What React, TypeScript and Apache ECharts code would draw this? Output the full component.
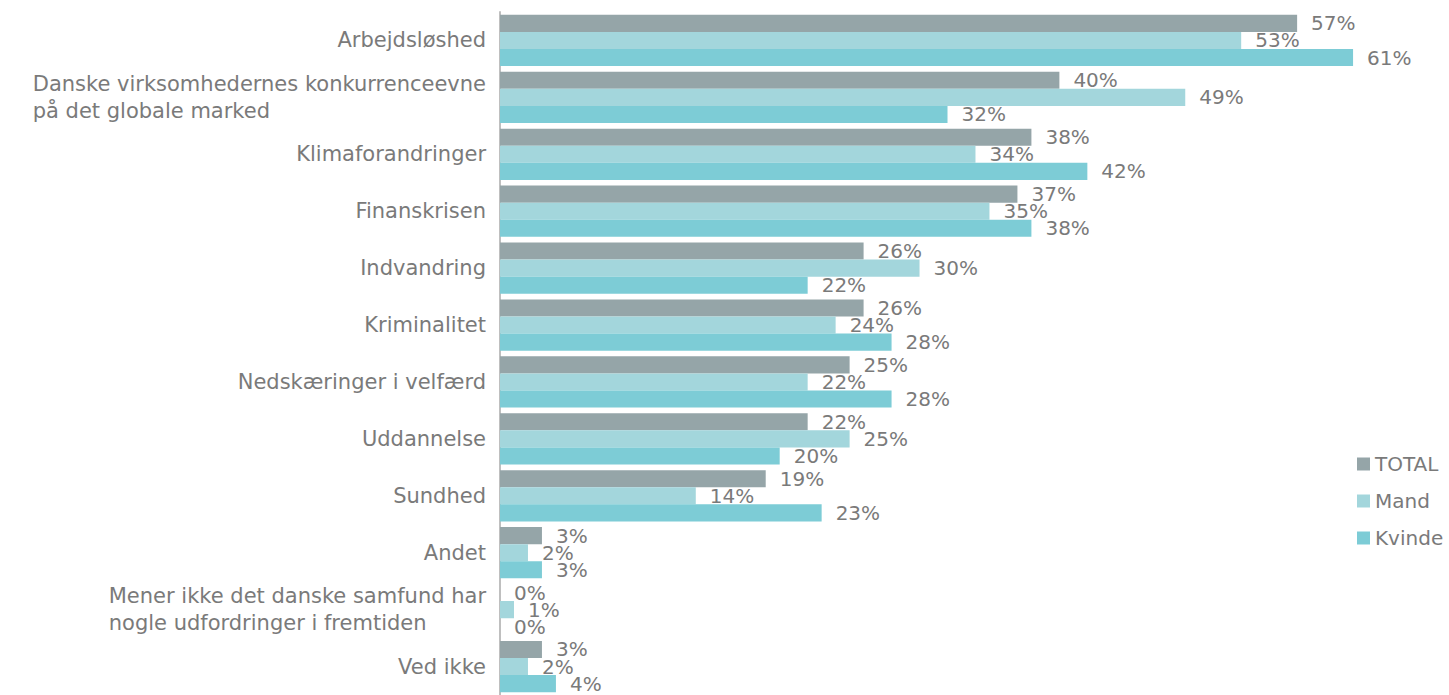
import React, { useEffect, useRef } from "react";
import * as echarts from "echarts";

const categories = [
  "Arbejdsløshed",
  "Danske virksomhedernes konkurrenceevne\npå det globale marked",
  "Klimaforandringer",
  "Finanskrisen",
  "Indvandring",
  "Kriminalitet",
  "Nedskæringer i velfærd",
  "Uddannelse",
  "Sundhed",
  "Andet",
  "Mener ikke det danske samfund har\nnogle udfordringer i fremtiden",
  "Ved ikke",
];
const totalValues = [57, 40, 38, 37, 26, 26, 25, 22, 19, 3, 0, 3];
const mandValues = [53, 49, 34, 35, 30, 24, 22, 25, 14, 2, 1, 2];
const kvindeValues = [61, 32, 42, 38, 22, 28, 28, 20, 23, 3, 0, 4];
const seriesNames = ["TOTAL", "Mand", "Kvinde"];
const colors = ["#95a5a8", "#a3d6dc", "#7dccd6"];

const FONT = "'DejaVu Sans', sans-serif";
const TEXT = "#7a7a7a";

export default function App() {
  const ref = useRef<HTMLDivElement>(null);
  useEffect(() => {
    if (!ref.current) return;
    const chart = echarts.init(ref.current, undefined, { renderer: "svg" });
    const mk = (name: string, data: number[], color: string) => ({
      name,
      type: "bar",
      data,
      barGap: "0%",
      barCategoryGap: "10%",
      itemStyle: { color },
      label: {
        show: true,
        position: "right",
        distance: 14,
        formatter: "{c}%",
        color: TEXT,
        fontSize: 20,
        fontFamily: FONT,
      },
    });
    chart.setOption({
      animation: false,
      textStyle: { fontFamily: FONT },
      legend: {
        orient: "vertical",
        left: 1352,
        top: 449,
        itemWidth: 13,
        itemHeight: 13,
        itemGap: 17,
        icon: "rect",
        textStyle: { color: TEXT, fontSize: 20, fontFamily: FONT },
        data: seriesNames,
      },
      grid: { left: 500, top: 12, width: 909, height: 685 },
      xAxis: {
        type: "value",
        min: 0,
        max: 65,
        show: false,
        splitLine: { show: false },
      },
      yAxis: {
        type: "category",
        data: categories,
        inverse: true,
        axisTick: { show: false },
        axisLine: { show: true, lineStyle: { color: "#bfbfbf", width: 2 } },
        axisLabel: {
          color: TEXT,
          fontSize: 21,
          fontFamily: FONT,
          margin: 14,
          align: "right",
          formatter: (v: string) =>
            v
              .split("\n")
              .map((s) => `{l|${s}}`)
              .join("\n"),
          rich: {
            l: {
              align: "left",
              color: TEXT,
              fontSize: 21,
              fontFamily: FONT,
              lineHeight: 27,
            },
          },
        },
      },
      series: [
        mk(seriesNames[0], totalValues, colors[0]),
        mk(seriesNames[1], mandValues, colors[1]),
        mk(seriesNames[2], kvindeValues, colors[2]),
      ],
    });
    return () => chart.dispose();
  }, []);
  return (
    <div
      ref={ref}
      style={{ position: "fixed", left: 0, top: 0, width: 1449, height: 695, background: "#fff" }}
    />
  );
}
